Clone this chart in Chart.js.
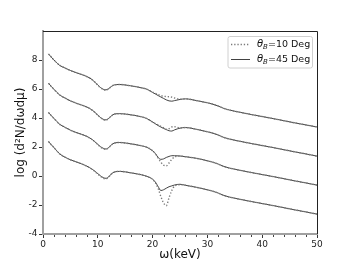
<!DOCTYPE html>
<html>
<head>
<meta charset="utf-8">
<script src="https://cdn.jsdelivr.net/npm/chart.js@4.4.1/dist/chart.umd.min.js"></script>
<style>
  html, body { margin: 0; padding: 0; background: #fff; }
</style>
</head>
<body>
<canvas id="myChart" width="352" height="264"></canvas>
<script>
// photon energy (keV)
const energy = [1, 1.5, 2, 3, 4, 5, 6, 7, 8, 9, 9.5, 10, 10.5, 11, 11.5, 12, 12.5, 13, 14, 16, 18, 19,
  20, 20.5, 21, 21.5, 22, 22.5, 23, 23.5, 24, 25, 26, 28, 30, 31, 32, 33, 34, 36, 38, 40, 42, 44, 46, 48, 50];

// theta_B = 45 Deg (solid), four curves from top to bottom
const deg45_1 = [8.42, 8.20, 8.00, 7.64, 7.45, 7.28, 7.13, 7.00, 6.86, 6.64, 6.46, 6.27, 6.10, 5.98, 5.94, 6.03, 6.18, 6.28, 6.31, 6.22, 6.08, 5.98,
  5.76, 5.66, 5.55, 5.45, 5.35, 5.25, 5.18, 5.16, 5.20, 5.28, 5.32, 5.20, 5.05, 4.95, 4.82, 4.66, 4.55, 4.39, 4.24, 4.10, 3.96, 3.81, 3.66, 3.52, 3.38];
const deg45_2 = [6.40, 6.18, 5.98, 5.60, 5.38, 5.18, 5.03, 4.90, 4.76, 4.54, 4.38, 4.20, 4.03, 3.91, 3.87, 3.98, 4.15, 4.27, 4.30, 4.22, 4.08, 3.95,
  3.72, 3.60, 3.48, 3.38, 3.28, 3.20, 3.12, 3.10, 3.18, 3.30, 3.34, 3.22, 3.05, 2.95, 2.82, 2.66, 2.55, 2.39, 2.24, 2.10, 1.96, 1.81, 1.66, 1.52, 1.37];
const deg45_3 = [4.38, 4.17, 3.97, 3.58, 3.36, 3.16, 3.01, 2.88, 2.73, 2.51, 2.35, 2.18, 2.02, 1.91, 1.86, 1.97, 2.15, 2.27, 2.31, 2.22, 2.08, 1.97,
  1.74, 1.55, 1.28, 1.15, 1.18, 1.28, 1.35, 1.40, 1.40, 1.38, 1.33, 1.22, 1.05, 0.95, 0.82, 0.66, 0.55, 0.39, 0.24, 0.10, -0.04, -0.19, -0.34, -0.48, -0.63];
const deg45_4 = [2.38, 2.16, 1.96, 1.54, 1.30, 1.12, 0.98, 0.84, 0.68, 0.46, 0.32, 0.16, 0.01, -0.11, -0.16, -0.05, 0.15, 0.27, 0.32, 0.22, 0.08, -0.03,
  -0.22, -0.42, -0.72, -1.00, -0.95, -0.84, -0.74, -0.68, -0.62, -0.57, -0.64, -0.78, -0.95, -1.05, -1.18, -1.34, -1.45, -1.61, -1.76, -1.90, -2.04, -2.19, -2.34, -2.48, -2.63];

// theta_B = 10 Deg (dotted)
const deg10_1 = [8.42, 8.21, 8.00, 7.65, 7.45, 7.27, 7.13, 7.01, 6.86, 6.63, 6.46, 6.26, 6.09, 5.97, 5.93, 6.02, 6.18, 6.28, 6.31, 6.22, 6.08, 5.98,
  5.78, 5.70, 5.62, 5.55, 5.50, 5.48, 5.47, 5.44, 5.38, 5.30, 5.32, 5.20, 5.05, 4.95, 4.82, 4.66, 4.55, 4.39, 4.24, 4.10, 3.96, 3.81, 3.66, 3.52, 3.38];
const deg10_2 = [6.40, 6.18, 5.98, 5.61, 5.38, 5.18, 5.03, 4.90, 4.75, 4.53, 4.37, 4.19, 4.02, 3.89, 3.85, 3.98, 4.15, 4.27, 4.30, 4.22, 4.08, 3.95,
  3.72, 3.62, 3.52, 3.42, 3.33, 3.22, 3.26, 3.38, 3.40, 3.32, 3.34, 3.22, 3.05, 2.95, 2.82, 2.66, 2.55, 2.39, 2.24, 2.10, 1.96, 1.81, 1.66, 1.52, 1.37];
const deg10_3 = [4.38, 4.17, 3.97, 3.58, 3.36, 3.16, 3.01, 2.88, 2.72, 2.50, 2.34, 2.16, 2.00, 1.88, 1.84, 1.96, 2.15, 2.27, 2.31, 2.22, 2.08, 1.97,
  1.74, 1.55, 1.25, 0.95, 0.75, 0.70, 0.90, 1.15, 1.32, 1.38, 1.33, 1.22, 1.05, 0.95, 0.82, 0.66, 0.55, 0.39, 0.24, 0.10, -0.04, -0.19, -0.34, -0.48, -0.63];
const deg10_4 = [2.38, 2.16, 1.96, 1.54, 1.30, 1.12, 0.98, 0.84, 0.67, 0.45, 0.30, 0.13, -0.03, -0.16, -0.20, -0.07, 0.15, 0.27, 0.32, 0.22, 0.08, -0.03,
  -0.24, -0.46, -0.85, -1.40, -1.85, -2.05, -1.50, -1.00, -0.70, -0.60, -0.64, -0.78, -0.95, -1.05, -1.18, -1.34, -1.45, -1.61, -1.76, -1.90, -2.04, -2.19, -2.34, -2.48, -2.63];

const FONT = 'DejaVu Sans';

function pts(arr) {
  return energy.map((e, i) => ({ x: e, y: arr[i] }));
}

function solid(arr) {
  return { data: pts(arr), borderColor: 'rgba(45,45,45,0.9)', borderWidth: 1, pointRadius: 0, cubicInterpolationMode: 'monotone', fill: false };
}

function dotted(arr) {
  return { data: pts(arr), borderColor: '#7a7a7a', borderWidth: 1.4, borderDash: [1.3, 1.9], pointRadius: 0, cubicInterpolationMode: 'monotone', fill: false };
}

// top and right spines, minor ticks on x
const framePlugin = {
  id: 'frame',
  afterDraw(chart) {
    const c = chart.ctx, a = chart.chartArea;
    c.save();
    c.strokeStyle = '#222';
    c.lineWidth = 1;
    c.beginPath();
    c.moveTo(a.left, Math.round(a.top) + 0.5);
    c.lineTo(Math.round(a.right) + 0.5, Math.round(a.top) + 0.5);
    c.lineTo(Math.round(a.right) + 0.5, a.bottom);
    c.stroke();

    const xs = chart.scales.x;
    c.strokeStyle = '#444';
    for (let v = 2; v < 50; v += 2) {
      if (v % 10 === 0) continue;
      const px = Math.round(xs.getPixelForValue(v)) + 0.5;
      c.beginPath();
      c.moveTo(px, a.bottom + 1);
      c.lineTo(px, a.bottom + 3);
      c.stroke();
    }
    c.restore();
  }
};

// legend box in the upper right corner
const legendPlugin = {
  id: 'boxLegend',
  afterDraw(chart) {
    const c = chart.ctx, a = chart.chartArea;
    const bx = a.right - 89.5, by = a.top + 5, bw = 84.5, bh = 31.5;
    c.save();
    c.fillStyle = 'rgba(255,255,255,0.8)';
    c.strokeStyle = '#d0d0d0';
    c.lineWidth = 1;
    c.beginPath();
    c.roundRect(bx + 0.5, by + 0.5, bw, bh, 2);
    c.fill();
    c.stroke();

    const rows = [
      { label: '=10 Deg', dash: [1.3, 1.9], color: '#7a7a7a', width: 1.4 },
      { label: '=45 Deg', dash: [], color: 'rgba(45,45,45,0.9)', width: 1 }
    ];
    rows.forEach((r, i) => {
      const y = by + 8.5 + i * 15;
      c.strokeStyle = r.color;
      c.lineWidth = r.width;
      c.setLineDash(r.dash);
      c.beginPath();
      c.moveTo(bx + 3.5, y);
      c.lineTo(bx + 22.5, y);
      c.stroke();
      c.setLineDash([]);

      c.fillStyle = '#111';
      c.textBaseline = 'middle';
      let tx = bx + 29.5;
      c.font = 'italic 10px "' + FONT + '"';
      c.fillText('θ', tx, y);
      tx += c.measureText('θ').width;
      c.font = 'italic 7px "' + FONT + '"';
      c.fillText('B', tx, y + 2.5);
      tx += c.measureText('B').width;
      c.font = '9.5px "' + FONT + '"';
      c.fillText(r.label, tx, y);
    });
    c.restore();
  }
};

new Chart(document.getElementById('myChart'), {
  type: 'line',
  data: {
    datasets: [
      dotted(deg10_1), dotted(deg10_2), dotted(deg10_3), dotted(deg10_4),
      solid(deg45_1), solid(deg45_2), solid(deg45_3), solid(deg45_4)
    ]
  },
  options: {
    responsive: false,
    animation: false,
    layout: { padding: { left: 0, right: 35, top: 31, bottom: 0 } },
    plugins: { legend: { display: false }, tooltip: { enabled: false } },
    scales: {
      x: {
        type: 'linear', min: 0, max: 50,
        ticks: { stepSize: 10, maxRotation: 0, padding: 1, color: '#222', font: { family: FONT, size: 9 } },
        grid: { drawOnChartArea: false, tickLength: 4, tickColor: '#333' },
        border: { color: '#a0a0a0', width: 2 },
        title: { display: true, text: 'ω(keV)', color: '#111', font: { family: FONT, size: 12 }, padding: { top: 0, bottom: 1.5 } },
        afterFit: s => { s.height = 30; }
      },
      y: {
        min: -4, max: 10,
        ticks: { stepSize: 2, padding: 1.5, color: '#222', font: { family: FONT, size: 9 }, callback: v => (v === 10 ? null : v) },
        grid: { drawOnChartArea: false, tickLength: 4, tickColor: '#333' },
        border: { color: '#a0a0a0', width: 2 },
        title: { display: true, text: 'log (d²N/dωdμ)', color: '#111', font: { family: FONT, size: 12 }, padding: { top: 14, bottom: 0 } },
        afterFit: s => { s.width = 43; }
      }
    }
  },
  plugins: [framePlugin, legendPlugin]
});
</script>
</body>
</html>
